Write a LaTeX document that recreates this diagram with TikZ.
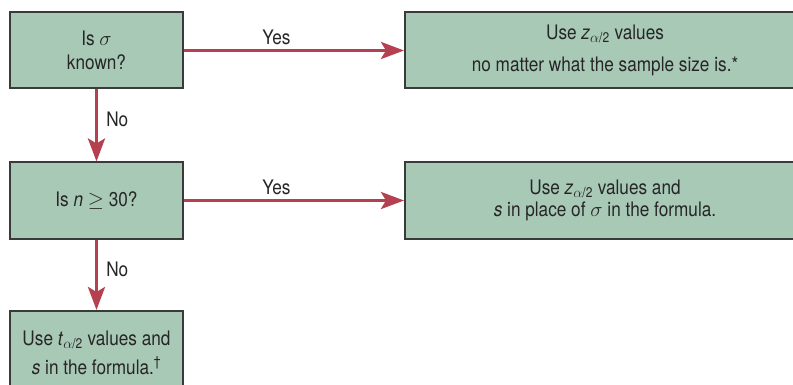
\documentclass[tikz,border=0pt]{standalone}
\usepackage{fontspec}
\setmainfont{TeX Gyre Heros}[FakeStretch=0.86]
\usetikzlibrary{arrows.meta,positioning}

\definecolor{boxgreen}{HTML}{A9C9B7}
\definecolor{boxline}{HTML}{3A3A3A}
\definecolor{flowred}{HTML}{B5404F}

% critical value with subscript alpha/2
\newcommand{\critval}[1]{\textit{#1}\textsubscript{$\alpha$/2}}

\begin{document}
\begin{tikzpicture}[x=1pt,y=-1pt,
    every node/.style={font=\fontsize{20}{24}\selectfont, text=black!85},
    flowbox/.style={draw=boxline, line width=2pt, fill=boxgreen,
        minimum height=76pt, align=center, inner sep=0pt},
    flowarrow/.style={draw=flowred, line width=3.5pt,
        -{Stealth[length=23pt, width=17pt, inset=5pt]}},
    flowlabel/.style={inner sep=4pt}]

    \useasboundingbox (0,0) rectangle (793,385);

    % ---- boxes ----
    \node[flowbox, minimum width=173pt] (sigma) at (96.5,50.5) {Is $\sigma$\\known?};
    \node[flowbox, minimum width=400pt] (zall) at (605,50.5)
        {Use \critval{z} values\\[8pt]no matter what the sample size is.*};
    \node[flowbox, minimum width=173pt] (large) at (96.5,200.5) {Is \textit{n} $\geq$ 30?};
    \node[flowbox, minimum width=400pt] (zs) at (605,200.5)
        {Use \critval{z} values and\\[-2pt]\textit{s} in place of $\sigma$ in the formula.};
    \node[flowbox, minimum width=173pt, minimum height=83pt] (ts) at (96.5,352.5)
        {Use \critval{t} values and\\[5pt]\textit{s} in the formula.\textsuperscript{\dag}};

    % ---- connectors ----
    \draw[flowarrow] (sigma) -- node[flowlabel, above, pos=0.42] {Yes} (zall);
    \draw[flowarrow] (sigma) -- node[flowlabel, right, pos=0.42, xshift=4pt] {No} (large);
    \draw[flowarrow] (large) -- node[flowlabel, above, pos=0.42] {Yes} (zs);
    \draw[flowarrow] (large) -- node[flowlabel, right, pos=0.42, xshift=4pt] {No} (ts);

\end{tikzpicture}
\end{document}
